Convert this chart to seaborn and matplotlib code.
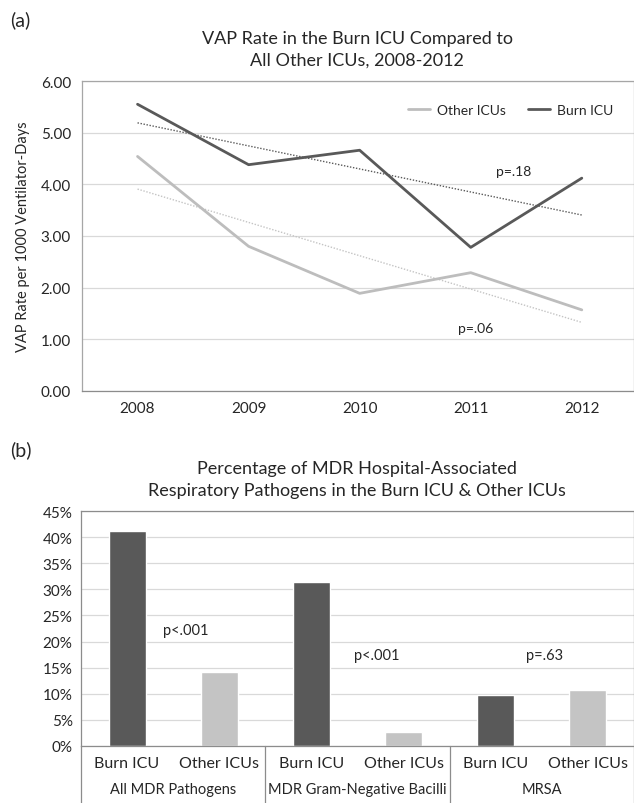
import numpy as np
import pandas as pd
import matplotlib.pyplot as plt
import seaborn as sns

sns.set_theme(style="white")
plt.rcParams['font.family'] = ['Lato', 'DejaVu Sans']

# panel (a): VAP rate per 1000 ventilator-days
years = ["2008", "2009", "2010", "2011", "2012"]
burn_rate = [5.55, 4.38, 4.66, 2.78, 4.12]
other_rate = [4.54, 2.80, 1.89, 2.29, 1.57]

# panel (b): % MDR respiratory pathogens
groups = ["All MDR Pathogens", "MDR Gram-Negative Bacilli", "MRSA"]
units = ["Burn ICU", "Other ICUs"]
burn_pct = [41.2, 31.5, 9.7]
other_pct = [14.2, 2.7, 10.8]
p_values_b = ["p<.001", "p<.001", "p=.63"]

DARK = "#595959"
LIGHT = "#c4c4c4"
GRID = "#d9d9d9"
FRAME = "#8c8c8c"

fig = plt.figure(figsize=(6.34, 8.04), dpi=100)

# ---------- (a) ----------
ax1 = fig.add_axes([82 / 634, 1 - 392 / 804, 552 / 634, 310 / 804])
pos = np.arange(len(years))
df_a = pd.DataFrame({
    "pos": np.concatenate([pos, pos]),
    "rate": other_rate + burn_rate,
    "unit": ["Other ICUs"] * len(years) + ["Burn ICU"] * len(years),
})
ax1.yaxis.grid(True, color=GRID, lw=0.9)
ax1.set_axisbelow(True)

# линейные тренды
sns.regplot(x=pos, y=burn_rate, ci=None, scatter=False, ax=ax1,
            line_kws=dict(color=DARK, lw=1.0, ls=(0, (1, 1.2))))
sns.regplot(x=pos, y=other_rate, ci=None, scatter=False, ax=ax1,
            line_kws=dict(color=LIGHT, lw=1.0, ls=(0, (1, 1.2))))
sns.lineplot(data=df_a, x="pos", y="rate", hue="unit",
             hue_order=["Other ICUs", "Burn ICU"],
             palette={"Other ICUs": "#bdbdbd", "Burn ICU": DARK},
             lw=2.0, ax=ax1)

ax1.set_xlim(-0.5, 4.47)
ax1.set_ylim(0, 6)
ax1.set_yticks(np.arange(0, 7, 1))
ax1.set_yticklabels([f"{v:.2f}" for v in np.arange(0, 7, 1)], fontsize=11)
ax1.set_yticks(np.arange(0.5, 6, 1), minor=True)
ax1.set_xticks(pos)
ax1.set_xticklabels(years, fontsize=11)
ax1.tick_params(axis="both", which="both", direction="in", length=3,
                color=FRAME, width=0.8, pad=6)
ax1.tick_params(axis="y", which="major", length=0, pad=8)
ax1.tick_params(axis="x", pad=7)
ax1.set_xlabel("")
ax1.set_ylabel("VAP Rate per 1000 Ventilator-Days", fontsize=10.5, labelpad=8)
for s in ax1.spines.values():
    s.set_color("#a6a6a6")
    s.set_linewidth(0.9)
ax1.spines["bottom"].set_color(FRAME)

ax1.legend(loc="center right", bbox_to_anchor=(0.985, 0.906), ncol=2,
           frameon=False, fontsize=10, handlelength=1.6, columnspacing=1.6,
           handletextpad=0.5)
ax1.text(3.39, 4.26, "p=.18", fontsize=10, ha="center", va="center", color="#262626")
ax1.text(3.04, 1.22, "p=.06", fontsize=10, ha="center", va="center", color="#262626")

fig.text(357 / 634, 1 - 50 / 804,
         "VAP Rate in the Burn ICU Compared to\nAll Other ICUs, 2008-2012",
         ha="center", va="center", fontsize=13, linespacing=1.45, color="#262626")
fig.text(10 / 634, 1 - 20 / 804, "(a)", fontsize=14, va="center", color="#262626")

# ---------- (b) ----------
ax2 = fig.add_axes([81 / 634, 1 - 747 / 804, 553 / 634, 235 / 804])
rows = []
for g, b, o in zip(groups, burn_pct, other_pct):
    rows.append({"slot": f"{g}|Burn ICU", "pct": b, "unit": "Burn ICU"})
    rows.append({"slot": f"{g}|Other ICUs", "pct": o, "unit": "Other ICUs"})
df_b = pd.DataFrame(rows)
ax2.yaxis.grid(True, color=GRID, lw=0.9)
ax2.set_axisbelow(True)
sns.barplot(data=df_b, x="slot", y="pct", hue="unit",
            palette={"Burn ICU": DARK, "Other ICUs": LIGHT},
            dodge=False, width=0.4, saturation=1, legend=False, ax=ax2)
ax2.set_xlim(-0.5, 5.5)
ax2.set_ylim(0, 45)
ax2.set_yticks(np.arange(0, 50, 5))
ax2.set_yticklabels([f"{v}%" for v in range(0, 50, 5)], fontsize=11)
ax2.set_xticks(range(len(df_b)))
ax2.set_xticklabels([u for g in groups for u in units], fontsize=11.5)
ax2.tick_params(axis="both", length=0, pad=7)
ax2.tick_params(axis="y", pad=6)
ax2.set_xlabel("")
ax2.set_ylabel("")
for s in ax2.spines.values():
    s.set_color(FRAME)
    s.set_linewidth(0.9)

# подписи групп и разделители под осью
trans = ax2.get_xaxis_transform()
for i, g in enumerate(groups):
    ax2.text(2 * i + 0.5, -0.184, g, transform=trans, ha="center", va="center",
             fontsize=10.5, color="#262626")
for xs in [-0.5, 1.5, 3.5, 5.5]:
    ax2.plot([xs, xs], [0, -0.25], transform=trans, color=FRAME, lw=0.9,
             clip_on=False)

for x, y, t in zip([0.64, 2.71, 4.53], [22.2, 17.4, 17.4], p_values_b):
    ax2.text(x, y, t, fontsize=10.5, ha="center", va="center", color="#262626")

fig.text(357 / 634, 1 - 480 / 804,
         "Percentage of MDR Hospital-Associated\nRespiratory Pathogens in the Burn ICU & Other ICUs",
         ha="center", va="center", fontsize=13, linespacing=1.45, color="#262626")
fig.text(10 / 634, 1 - 450 / 804, "(b)", fontsize=14, va="center", color="#262626")

plt.savefig("out.png", dpi=100)
plt.close(fig)
